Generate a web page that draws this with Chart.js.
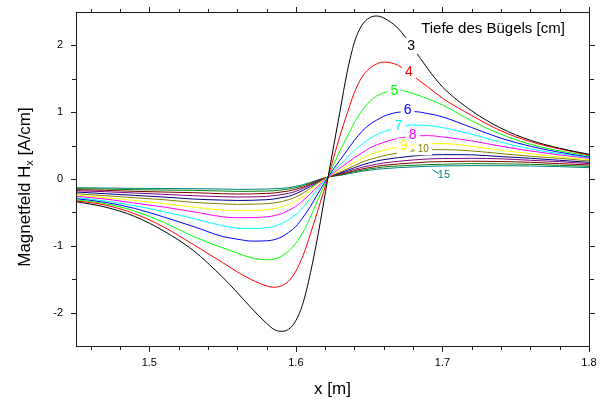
<!DOCTYPE html>
<html>
<head>
<meta charset="utf-8">
<script src="https://cdn.jsdelivr.net/npm/chart.js@4/dist/chart.umd.min.js"></script>
<style>
  html, body { margin: 0; padding: 0; background: #fff; }
  #wrap { width: 604px; height: 400px; }
</style>
</head>
<body>
<div id="wrap"><canvas id="c" width="604" height="400"></canvas></div>
<script>
// Horizontal position along the profile [m]
const xPos = [1.45, 1.47, 1.49, 1.51, 1.53, 1.55, 1.56, 1.57, 1.58, 1.585, 1.59, 1.595, 1.60, 1.605, 1.61, 1.615,
              1.622, 1.63, 1.635, 1.64, 1.645, 1.65, 1.655, 1.66, 1.67, 1.68, 1.69, 1.70, 1.72, 1.74, 1.76, 1.78, 1.80];

// Depth of the bracket [cm] for each profile
const depths = [3, 4, 5, 6, 7, 8, 9, 10, 11, 12, 13, 14, 15];

// Magnetic field Hx [A/cm] per depth
const hx3  = [-0.34, -0.42, -0.56, -0.78, -1.07, -1.47, -1.70, -1.94, -2.16, -2.25, -2.28, -2.25, -2.12, -1.85, -1.40, -0.85, 0.03, 1.00, 1.60, 2.05, 2.30, 2.41, 2.44, 2.41, 2.25, 1.96, 1.65, 1.38, 1.02, 0.76, 0.58, 0.46, 0.37];
const hx4  = [-0.325, -0.39, -0.52, -0.72, -0.98, -1.25, -1.39, -1.51, -1.60, -1.62, -1.60, -1.53, -1.38, -1.14, -0.82, -0.47, 0.03, 0.64, 0.98, 1.30, 1.52, 1.65, 1.72, 1.75, 1.70, 1.54, 1.38, 1.21, 0.95, 0.72, 0.56, 0.45, 0.36];
const hx5  = [-0.31, -0.37, -0.48, -0.65, -0.86, -1.03, -1.11, -1.18, -1.21, -1.20, -1.16, -1.08, -0.96, -0.79, -0.57, -0.31, 0.03, 0.42, 0.63, 0.85, 1.02, 1.15, 1.24, 1.29, 1.33, 1.28, 1.20, 1.11, 0.87, 0.67, 0.52, 0.42, 0.35];
const hx6  = [-0.295, -0.35, -0.44, -0.57, -0.71, -0.86, -0.90, -0.93, -0.925, -0.91, -0.87, -0.80, -0.71, -0.57, -0.41, -0.22, 0.03, 0.28, 0.43, 0.58, 0.71, 0.81, 0.88, 0.94, 1.00, 1.01, 0.98, 0.93, 0.77, 0.61, 0.49, 0.40, 0.33];
const hx7  = [-0.28, -0.33, -0.40, -0.49, -0.59, -0.70, -0.735, -0.742, -0.73, -0.71, -0.67, -0.61, -0.53, -0.42, -0.29, -0.15, 0.03, 0.21, 0.32, 0.43, 0.52, 0.60, 0.66, 0.71, 0.77, 0.81, 0.80, 0.77, 0.67, 0.55, 0.45, 0.38, 0.32];
const hx8  = [-0.26, -0.30, -0.36, -0.42, -0.49, -0.565, -0.58, -0.578, -0.567, -0.55, -0.52, -0.47, -0.41, -0.32, -0.22, -0.11, 0.03, 0.16, 0.24, 0.32, 0.39, 0.46, 0.51, 0.55, 0.61, 0.64, 0.65, 0.63, 0.57, 0.49, 0.42, 0.36, 0.31];
const hx9  = [-0.24, -0.28, -0.32, -0.37, -0.42, -0.465, -0.475, -0.471, -0.46, -0.445, -0.42, -0.38, -0.33, -0.26, -0.17, -0.08, 0.03, 0.13, 0.19, 0.25, 0.31, 0.36, 0.40, 0.43, 0.48, 0.51, 0.528, 0.53, 0.49, 0.43, 0.38, 0.33, 0.29];
const hx10 = [-0.22, -0.25, -0.28, -0.31, -0.35, -0.372, -0.38, -0.377, -0.37, -0.36, -0.34, -0.31, -0.27, -0.21, -0.14, -0.06, 0.03, 0.10, 0.15, 0.20, 0.25, 0.29, 0.32, 0.35, 0.39, 0.42, 0.436, 0.44, 0.42, 0.38, 0.34, 0.31, 0.27];
const hx11 = [-0.195, -0.22, -0.245, -0.27, -0.30, -0.316, -0.321, -0.319, -0.31, -0.30, -0.28, -0.26, -0.22, -0.17, -0.11, -0.05, 0.03, 0.09, 0.13, 0.17, 0.21, 0.24, 0.27, 0.29, 0.32, 0.345, 0.36, 0.365, 0.362, 0.335, 0.31, 0.28, 0.25];
const hx12 = [-0.175, -0.19, -0.21, -0.23, -0.25, -0.265, -0.27, -0.268, -0.26, -0.25, -0.235, -0.215, -0.185, -0.14, -0.09, -0.035, 0.03, 0.08, 0.11, 0.145, 0.175, 0.20, 0.22, 0.24, 0.265, 0.285, 0.30, 0.306, 0.31, 0.302, 0.28, 0.26, 0.23];
const hx13 = [-0.16, -0.17, -0.185, -0.195, -0.205, -0.22, -0.225, -0.223, -0.215, -0.21, -0.195, -0.18, -0.155, -0.12, -0.075, -0.025, 0.03, 0.07, 0.095, 0.125, 0.15, 0.17, 0.19, 0.205, 0.225, 0.24, 0.255, 0.26, 0.266, 0.262, 0.25, 0.23, 0.21];
const hx14 = [-0.145, -0.15, -0.16, -0.165, -0.17, -0.18, -0.185, -0.184, -0.18, -0.175, -0.165, -0.15, -0.13, -0.10, -0.06, -0.02, 0.03, 0.06, 0.085, 0.11, 0.13, 0.15, 0.165, 0.18, 0.195, 0.205, 0.215, 0.22, 0.23, 0.227, 0.22, 0.205, 0.19];
const hx15 = [-0.13, -0.135, -0.14, -0.142, -0.145, -0.15, -0.155, -0.154, -0.15, -0.145, -0.14, -0.13, -0.11, -0.085, -0.05, -0.015, 0.03, 0.055, 0.075, 0.095, 0.115, 0.13, 0.145, 0.155, 0.17, 0.18, 0.19, 0.195, 0.2, 0.199, 0.195, 0.185, 0.17];

// Axis tick values
const xMajorTicks = [1.5, 1.6, 1.7, 1.8];
const yMajorTicks = [-2, -1, 0, 1, 2];

const series = [hx3, hx4, hx5, hx6, hx7, hx8, hx9, hx10, hx11, hx12, hx13, hx14, hx15];
const colors = ['#000000', '#ff0000', '#00ff00', '#0000ff', '#00ffff', '#ff00ff', '#ffff00',
                '#808000', '#000080', '#800080', '#800000', '#008000', '#008080'];

const FONT = "'Liberation Sans', Arial, Helvetica, sans-serif";

// In-plot curve labels, placed in data coordinates
const curveLabels = [
  { text: '3',  x: 1.6786, y: 1.99,  color: '#000000', size: 14, box: true },
  { text: '4',  x: 1.6772, y: 1.60,  color: '#ff0000', size: 14, box: true },
  { text: '5',  x: 1.6672, y: 1.32,  color: '#00ff00', size: 14, box: true },
  { text: '6',  x: 1.6763, y: 1.03,  color: '#0000ff', size: 14, box: true },
  { text: '7',  x: 1.6700, y: 0.79,  color: '#00ffff', size: 14, box: true },
  { text: '8',  x: 1.6797, y: 0.65,  color: '#ff00ff', size: 14, box: true },
  { text: '9',  x: 1.6736, y: 0.49,  color: '#ffff00', size: 14, box: true },
  { text: '-',  x: 1.6794, y: 0.445, color: '#808000', size: 8,  box: false },
  { text: '10', x: 1.6870, y: 0.445, color: '#808000', size: 10, box: true },
  { text: '.',  x: 1.6790, y: 0.36,  color: '#000080', size: 8,  box: false },
  { text: '15', x: 1.7010, y: 0.066, color: '#008080', size: 11, box: true }
];

const datasets = series.map((vals, i) => ({
  label: depths[i] + ' cm',
  data: xPos.map((x, j) => ({ x: x, y: vals[j] })),
  borderColor: colors[i],
  backgroundColor: colors[i],
  borderWidth: 1,
  pointRadius: 0,
  fill: false,
  cubicInterpolationMode: 'monotone'
}));

// Curve labels, legend title, frame with outward ticks and the y-axis title (with subscript)
const decorations = {
  id: 'decorations',
  afterDraw(chart) {
    const { ctx, chartArea: a, scales: { x, y } } = chart;
    ctx.save();

    // curve labels on white boxes
    curveLabels.forEach(l => {
      const px = x.getPixelForValue(l.x);
      const py = y.getPixelForValue(l.y);
      ctx.font = l.size + 'px ' + FONT;
      const w = ctx.measureText(l.text).width;
      if (l.box) {
        ctx.fillStyle = '#ffffff';
        ctx.fillRect(px - w / 2 - 3, py - l.size / 2 - 1, w + 6, l.size + 2);
      }
      ctx.fillStyle = l.color;
      ctx.textAlign = 'center';
      ctx.textBaseline = 'middle';
      ctx.fillText(l.text, px, py);
    });

    // leader for the 15 cm label
    ctx.strokeStyle = '#008080';
    ctx.lineWidth = 1;
    ctx.beginPath();
    ctx.moveTo(x.getPixelForValue(1.6931), y.getPixelForValue(0.14));
    ctx.lineTo(x.getPixelForValue(1.6975), y.getPixelForValue(0.08));
    ctx.stroke();

    // legend title
    ctx.font = '15px ' + FONT;
    ctx.fillStyle = '#000000';
    ctx.textAlign = 'center';
    ctx.textBaseline = 'middle';
    ctx.fillText('Tiefe des Bügels [cm]', x.getPixelForValue(1.7345), y.getPixelForValue(2.25));

    // frame
    const L = Math.round(a.left), R = Math.round(a.right);
    const T = Math.round(a.top), B = Math.round(a.bottom);
    ctx.fillStyle = '#1a1a1a';
    ctx.fillRect(L, T, R - L + 1, 1);
    ctx.fillRect(L, B, R - L + 1, 1);
    ctx.fillRect(L, T, 1, B - T + 1);
    ctx.fillRect(R, T, 1, B - T + 1);

    // ticks, outward on all four sides
    for (let k = 0; k <= 17; k++) {
      const v = 1.46 + k * 0.02;
      const major = xMajorTicks.some(t => Math.abs(t - v) < 1e-6);
      const len = major ? 5 : 3;
      const px = Math.round(x.getPixelForValue(v));
      ctx.fillRect(px, B + 1, 1, len);
      ctx.fillRect(px, T - len, 1, len);
    }
    for (let k = 0; k <= 8; k++) {
      const v = -2 + k * 0.5;
      const major = yMajorTicks.includes(v);
      const len = major ? 5 : 4;
      const py = Math.round(y.getPixelForValue(v));
      ctx.fillRect(L - len, py, len, 1);
      ctx.fillRect(R + 1, py, len, 1);
    }

    // y-axis title with subscript
    const cx = 25, cy = (a.top + a.bottom) / 2 + 8;
    const big = '17px ' + FONT, small = '11px ' + FONT;
    const parts = [
      { t: 'Magnetfeld H', f: big, dy: 0 },
      { t: 'x', f: small, dy: 5 },
      { t: ' [A/cm]', f: big, dy: 0 }
    ];
    let total = 0;
    parts.forEach(p => { ctx.font = p.f; p.w = ctx.measureText(p.t).width; total += p.w; });
    ctx.translate(cx, cy);
    ctx.rotate(-Math.PI / 2);
    ctx.textAlign = 'left';
    ctx.textBaseline = 'middle';
    ctx.fillStyle = '#000000';
    let pos = -total / 2;
    parts.forEach(p => { ctx.font = p.f; ctx.fillText(p.t, pos, p.dy); pos += p.w; });
    ctx.restore();
  }
};

new Chart(document.getElementById('c').getContext('2d'), {
  type: 'line',
  data: { datasets },
  options: {
    responsive: false,
    animation: false,
    devicePixelRatio: 1,
    layout: { padding: { left: 0, right: 15, top: 12, bottom: 0 } },
    plugins: { legend: { display: false }, tooltip: { enabled: false } },
    scales: {
      x: {
        type: 'linear',
        min: 1.45,
        max: 1.8,
        grid: { display: false, drawTicks: true, tickLength: 10 },
        border: { display: false },
        afterBuildTicks: s => { s.ticks = xMajorTicks.map(v => ({ value: v })); },
        afterFit: s => { s.height = 54; },
        ticks: { padding: 0, color: '#000', font: { family: FONT, size: 11 }, maxRotation: 0,
                 callback: v => v.toFixed(1) },
        title: { display: true, text: 'x [m]', color: '#000', font: { family: FONT, size: 17 },
                 padding: { top: 0, bottom: 0 } }
      },
      y: {
        type: 'linear',
        min: -2.5,
        max: 2.5,
        grid: { display: false, drawTicks: true, tickLength: 13 },
        border: { display: false },
        afterBuildTicks: s => { s.ticks = yMajorTicks.map(v => ({ value: v })); },
        afterFit: s => { s.width = 76; },
        ticks: { padding: 0, color: '#000', font: { family: FONT, size: 11 },
                 callback: v => String(v) }
      }
    }
  },
  plugins: [decorations]
});
</script>
</body>
</html>
